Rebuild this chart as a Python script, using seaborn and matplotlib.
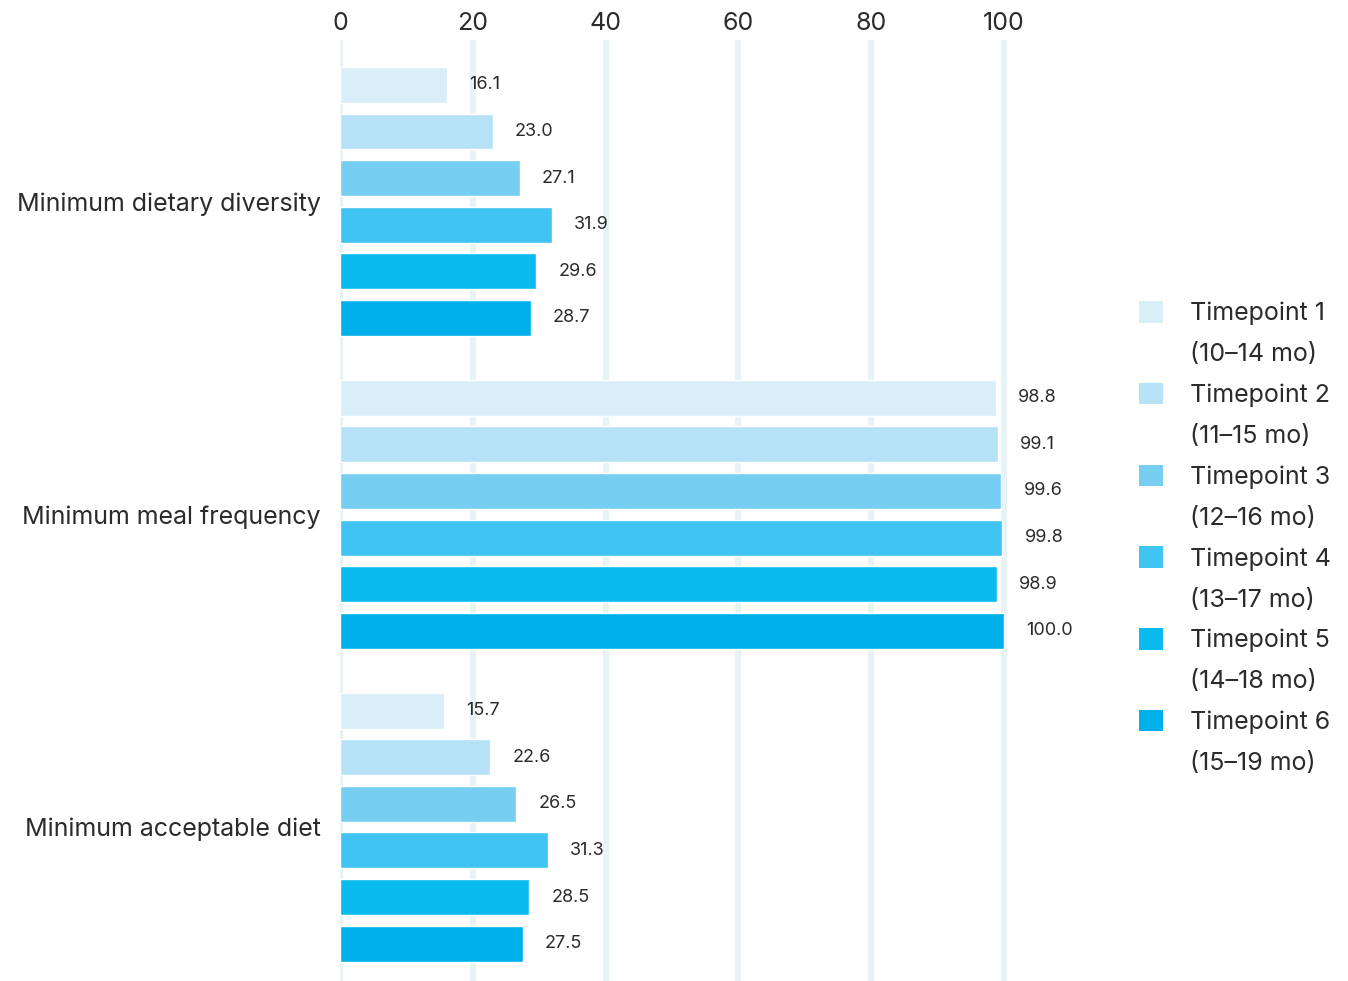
import matplotlib
matplotlib.use("Agg")
import matplotlib.pyplot as plt
from matplotlib.patches import Patch
import seaborn as sns
import pandas as pd

indicators = ["Minimum dietary diversity", "Minimum meal frequency", "Minimum acceptable diet"]
timepoints = ["Timepoint 1", "Timepoint 2", "Timepoint 3", "Timepoint 4", "Timepoint 5", "Timepoint 6"]
age_ranges = ["(10–14 mo)", "(11–15 mo)", "(12–16 mo)", "(13–17 mo)", "(14–18 mo)", "(15–19 mo)"]
dietary_diversity = [16.1, 23.0, 27.1, 31.9, 29.6, 28.7]
meal_frequency = [98.8, 99.1, 99.6, 99.8, 98.9, 100.0]
acceptable_diet = [15.7, 22.6, 26.5, 31.3, 28.5, 27.5]
x_ticks = [0, 20, 40, 60, 80, 100]

colors = ["#d9eef9", "#b6e2f7", "#76cff3", "#40c4f1", "#0bbaee", "#00b0ea"]
text_color = "#2b2b2b"
grid_color = "#e8f3f6"

rows = []
for ind, vals in zip(indicators, [dietary_diversity, meal_frequency, acceptable_diet]):
    for tp, v in zip(timepoints, vals):
        rows.append({"indicator": ind, "timepoint": tp, "value": v})
df = pd.DataFrame(rows)

sns.set_theme(style="white")
plt.rcParams["font.family"] = ["Inter", "DejaVu Sans"]

fig = plt.figure(figsize=(13.48, 9.81), dpi=100)
ax = fig.add_axes([340 / 1348, 0.0, 697 / 1348, (981 - 40) / 981])

sns.barplot(data=df, y="indicator", x="value", hue="timepoint", order=indicators,
            hue_order=timepoints, palette=colors, orient="h", width=0.894, gap=0.23,
            saturation=1, legend=False, ax=ax, zorder=2)

ax.set_xlim(0, 105)
ax.set_ylim(2.492, -0.516)
ax.set_xticks(x_ticks)
ax.xaxis.tick_top()
ax.tick_params(axis="x", length=0, pad=3.5, labelsize=18, colors=text_color)
ax.tick_params(axis="y", length=0, pad=14, labelsize=18, colors=text_color)
ax.set_xlabel("")
ax.set_ylabel("")
for s in ax.spines.values():
    s.set_visible(False)
ax.grid(axis="x", color=grid_color, linewidth=4.5, zorder=0)
ax.set_axisbelow(True)

for cont in ax.containers:
    ax.bar_label(cont, fmt="%.1f", padding=16, fontsize=13, color=text_color)

handles, labels = [], []
for c, tp, ar in zip(colors, timepoints, age_ranges):
    handles.append(Patch(facecolor=c, edgecolor="none"))
    labels.append(tp)
    handles.append(Patch(facecolor="none", edgecolor="none"))
    labels.append(ar)
leg = fig.legend(handles, labels, loc="upper left", bbox_to_anchor=(1139 / 1348, 1 - 301 / 981),
                 frameon=False, fontsize=18, handlelength=0.95, handleheight=0.95,
                 handletextpad=1.1, labelspacing=0.66, borderaxespad=0, borderpad=0)
for t in leg.get_texts():
    t.set_color(text_color)

fig.savefig("out.png", dpi=100)
